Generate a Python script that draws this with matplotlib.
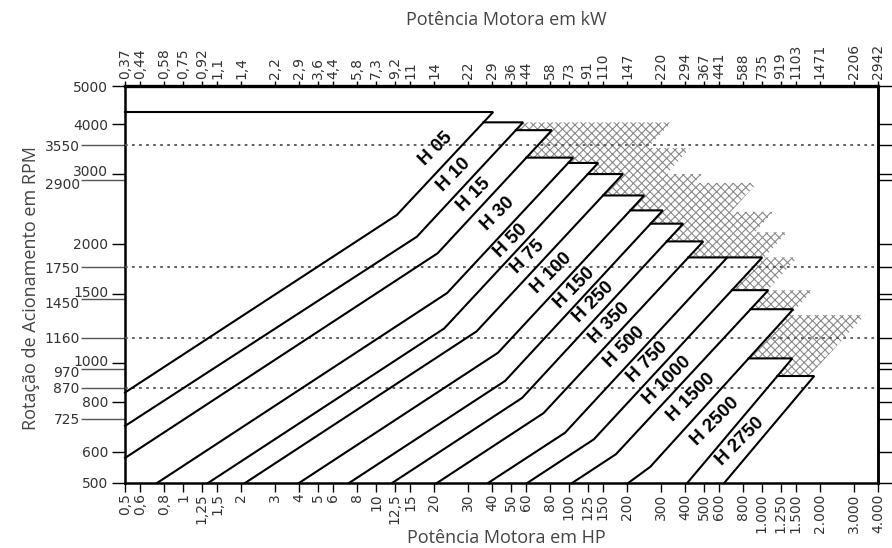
import numpy as np
import matplotlib.pyplot as plt
from matplotlib.patches import Polygon
from matplotlib.ticker import NullLocator
from matplotlib.transforms import ScaledTranslation

plt.rcParams["font.family"] = "DejaVu Sans"
plt.rcParams["hatch.linewidth"] = 0.8
plt.rcParams["hatch.color"] = "#8a8a8a"

# -----------------------
# Axis ticks
# -----------------------
HP_TICKS = [0.5, 0.6, 0.8, 1, 1.25, 1.5, 2, 3, 4, 5, 6, 8, 10, 12.5, 15, 20,
            30, 40, 50, 60, 80, 100, 125, 150, 200, 300, 400, 500, 600, 800,
            1000, 1250, 1500, 2000, 3000, 4000]
HP_LABELS = ["0,5", "0,6", "0,8", "1", "1,25", "1,5", "2", "3", "4", "5", "6",
             "8", "10", "12,5", "15", "20", "30", "40", "50", "60", "80", "100",
             "125", "150", "200", "300", "400", "500", "600", "800", "1.000",
             "1.250", "1.500", "2.000", "3.000", "4.000"]
KW_LABELS = ["0,37", "0,44", "0,58", "0,75", "0,92", "1,1", "1,4", "2,2", "2,9",
             "3,6", "4,4", "5,8", "7,3", "9,2", "11", "14", "22", "29", "36",
             "44", "58", "73", "91", "110", "147", "220", "294", "367", "441",
             "588", "735", "919", "1103", "1471", "2206", "2942"]

RPM_TICKS = [500, 600, 800, 1000, 1500, 2000, 3000, 4000, 5000]
RPM_MOTOR = [725, 870, 970, 1160, 1450, 1750, 2900, 3550]
RPM_DOTTED = [870, 1160, 1750, 3550]

# -----------------------
# Coupling sizes: right-hand boundary of each band
# start (on an axis) -> bend -> top corner, then flat top
# -----------------------
SIZES = ["H 05", "H 10", "H 15", "H 30", "H 50", "H 75", "H 100", "H 150",
         "H 250", "H 350", "H 500", "H 750", "H 1000", "H 1500", "H 2500",
         "H 2750"]
START_HP = [0.5, 0.5, 0.5, 0.733, 1.347, 2.096, 3.99, 7.25, 12.12, 20.7,
            38.1, 60.8, 103.9, 202.9, 410.4, 638]
START_RPM = [845, 696, 578, 500, 500, 500, 500, 500, 500, 500,
             500, 500, 500, 500, 500, 500]
BEND_HP = [12.82, 16.28, 20.86, 23.37, 22.55, 33.24, 42.97, 46.7, 57.2, 73.9,
           95.4, 134.6, 175.4, 263.8, np.nan, np.nan]
BEND_RPM = [2366, 2086, 1895, 1505, 1225, 1205, 1065, 904, 819, 750,
            669, 644, 591, 549, np.nan, np.nan]
CORNER_HP = [40.5, 57.9, 81.6, 105.2, 141.8, 190.5, 245.6, 307, 391, 497,
             662, 1005, 1080, 1455, 1438, 1869]
TOP_RPM = [4300, 4050, 3870, 3300, 3200, 3000, 2650, 2430, 2250, 2030,
           1850, 1850, 1530, 1370, 1030, 930]

# hatched extension zones (staircase)
HATCH_TOP_RPM = [4050, 3490, 3000, 2850, 2410, 2140, 1850, 1530, 1325]
HATCH_BOTTOM_RPM = [3490, 3000, 2850, 2410, 2140, 1850, 1530, 1325, 930]
HATCH_TOP_HP = [339, 425, 491, 947, 1146, 1354, 1526, 1847, 3437]
HATCH_BOTTOM_HP = [256, 322, 443, 691, 922, 1027, 1073, 1408, 1761]

X_MIN, X_MAX = HP_TICKS[0], HP_TICKS[-1]
Y_MIN, Y_MAX = RPM_TICKS[0], RPM_TICKS[-1]

# label placement: drop below band top (px)
LABEL_DROP = [37, 53, 65, 56, 78, 83, 78, 78, 79, 82, 90, 105, 90, 88, 63, 66]
# vertical nudge (px) of crowded left tick labels
NUDGE_MAJOR = {3000: 3.5, 1500: 2.5, 1000: 3}
NUDGE_MINOR = {2900: -3.5, 1450: -3, 970: -3}


def line_points(i):
    xs = [START_HP[i]]
    ys = [START_RPM[i]]
    if not np.isnan(BEND_HP[i]):
        xs.append(BEND_HP[i])
        ys.append(BEND_RPM[i])
    xs.append(CORNER_HP[i])
    ys.append(TOP_RPM[i])
    return xs, ys


def hp_on_line(i, rpm):
    xs, ys = line_points(i)
    return 10 ** np.interp(np.log10(rpm), np.log10(ys), np.log10(xs))


# -----------------------
# Figure
# -----------------------
fig = plt.figure(figsize=(8.92, 5.48), dpi=100, facecolor="white")
ax = fig.add_axes([125 / 892, 1 - 483 / 548, 753 / 892, 397 / 548])
ax.set_xscale("log")
ax.set_yscale("log")
ax.set_xlim(X_MIN, X_MAX)
ax.set_ylim(Y_MIN, Y_MAX)

tick_color = "#333333"

# bottom HP axis
ax.set_xticks(HP_TICKS, labels=HP_LABELS)
ax.xaxis.set_minor_locator(NullLocator())
ax.tick_params(axis="x", which="major", length=6.5, width=1.0, pad=1,
               labelsize=10, labelrotation=90, labelcolor=tick_color)

# left RPM axis
ax.set_yticks(RPM_TICKS, labels=[str(v) for v in RPM_TICKS])
ax.set_yticks(RPM_MOTOR, labels=[str(v) for v in RPM_MOTOR], minor=True)
ax.tick_params(axis="y", which="major", length=9.5, width=1.0, pad=2.5,
               labelsize=10, labelcolor=tick_color)
ax.tick_params(axis="y", which="minor", length=32, width=1.0, pad=0.5,
               labelsize=10, labelcolor=tick_color, color="#555555")

for ticks, values, nudges in [
        (ax.yaxis.get_major_ticks(), RPM_TICKS, NUDGE_MAJOR),
        (ax.yaxis.get_minor_ticks(len(RPM_MOTOR)), RPM_MOTOR, NUDGE_MINOR)]:
    for tick, v in zip(ticks, values):
        if v in nudges:
            lab = tick.label1
            lab.set_transform(lab.get_transform() + ScaledTranslation(
                0, nudges[v] / 100, fig.dpi_scale_trans))

# top kW axis
top = ax.secondary_xaxis("top")
top.set_xticks(HP_TICKS, labels=KW_LABELS)
top.xaxis.set_minor_locator(NullLocator())
top.tick_params(axis="x", length=3.5, width=1.0, pad=1.5, labelsize=10,
                labelrotation=90, labelcolor=tick_color)

# right axis ticks only
right = ax.secondary_yaxis("right")
right.set_yticks(RPM_TICKS + RPM_MOTOR)
right.yaxis.set_minor_locator(NullLocator())
right.tick_params(axis="y", length=10, width=1.0, labelright=False)

for sp in ax.spines.values():
    sp.set_linewidth(1.8)
top.spines["top"].set_linewidth(2.4)
right.spines["right"].set_linewidth(1.8)

# -----------------------
# Hatched zones
# -----------------------
for k in range(len(HATCH_TOP_RPM)):
    poly = [(X_MIN, HATCH_TOP_RPM[k]), (HATCH_TOP_HP[k], HATCH_TOP_RPM[k]),
            (HATCH_BOTTOM_HP[k], HATCH_BOTTOM_RPM[k]),
            (X_MIN, HATCH_BOTTOM_RPM[k])]
    ax.add_patch(Polygon(poly, closed=True, facecolor="none",
                         edgecolor="#8a8a8a", linewidth=0, hatch="xxxx",
                         zorder=1))

# -----------------------
# Bands
# -----------------------
for i in range(len(SIZES)):
    xs, ys = line_points(i)
    left = X_MIN if i == 0 else hp_on_line(i - 1, TOP_RPM[i])

    mx = list(xs) + [X_MIN]
    my = list(ys) + [TOP_RPM[i]]
    if START_HP[i] > X_MIN:
        mx = [X_MIN] + mx
        my = [Y_MIN] + my
    ax.add_patch(Polygon(np.column_stack([mx, my]), closed=True,
                         facecolor="white", edgecolor="none", zorder=2))

    ax.plot(xs + [left], ys + [TOP_RPM[i]], color="black", lw=1.5,
            zorder=4, solid_joinstyle="miter", clip_on=False)

# dotted motor speeds
for r in RPM_DOTTED:
    ax.axhline(r, color="#555555", lw=1.3, dashes=(1.5, 2.4), zorder=3)

# -----------------------
# Band labels
# -----------------------
to_disp = ax.transData.transform
to_data = ax.transData.inverted().transform
for i, name in enumerate(SIZES):
    cx, cy = to_disp((CORNER_HP[i], TOP_RPM[i]))
    y_lab = cy - LABEL_DROP[i]
    rpm = to_data((cx, y_lab))[1]
    xr = to_disp((hp_on_line(i, rpm), rpm))[0]
    if i == 0:
        xl = xr - 46
    else:
        xl = to_disp((hp_on_line(i - 1, rpm), rpm))[0]
    hp = to_data(((xl + xr) / 2, y_lab))[0]
    ax.text(hp, rpm, name, rotation=45, rotation_mode="anchor",
            ha="center", va="center", fontsize=13.5, fontweight="bold",
            family="Liberation Sans", color="black", zorder=5)

# -----------------------
# Titles
# -----------------------
title_kw = dict(family="Open Sans", fontsize=13, color="#444444")
ax.text(0.507, 1.166, "Potência Motora em kW", transform=ax.transAxes,
        ha="center", va="center", **title_kw)
ax.text(0.507, -0.1385, "Potência Motora em HP", transform=ax.transAxes,
        ha="center", va="center", **title_kw)
ax.text(-0.1248, 0.491, "Rotação de Acionamento em RPM", transform=ax.transAxes,
        ha="center", va="center", rotation=90, **title_kw)

fig.savefig("out.png", dpi=100, facecolor="white")
plt.close(fig)
